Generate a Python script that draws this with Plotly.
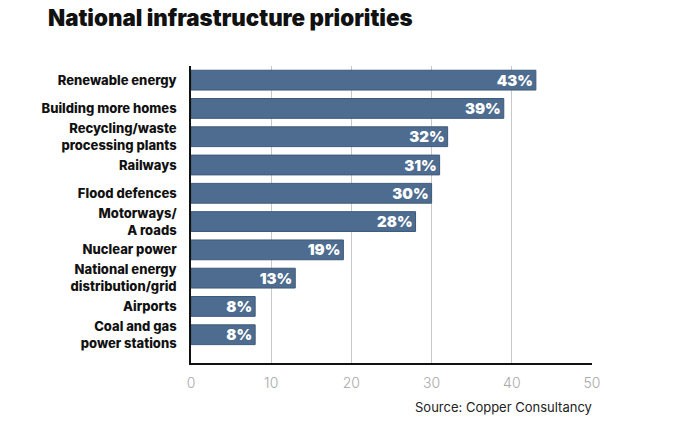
import plotly.graph_objects as go

categories = ["Renewable energy", "Building more homes", "Recycling/waste<br>processing plants",
              "Railways", "Flood defences", "Motorways/<br>A roads", "Nuclear power",
              "National energy<br>distribution/grid", "Airports", "Coal and gas<br>power stations"]
values = [43, 39, 32, 31, 30, 28, 19, 13, 8, 8]
labels = [f"{v}%" for v in values]
tick_vals = [0, 10, 20, 30, 40, 50]

fig = go.Figure(go.Bar(
    x=values, y=categories, orientation="h",
    marker=dict(color="#4d6c8f", line=dict(color="#3d5a7a", width=1)),
    text=labels, textposition="inside", insidetextanchor="end", constraintext="none",
    textfont=dict(family="Inter", size=15, color="white", weight=900),
    cliponaxis=False,
))

fig.update_layout(
    width=692, height=417,
    margin=dict(l=183, r=108, t=58, b=62),
    paper_bgcolor="white", plot_bgcolor="white",
    bargap=0.3,
    showlegend=False,
    title=dict(text="National infrastructure priorities", x=40/692, xref="container", xanchor="left",
               y=1 - 2/417, yref="container", yanchor="top",
               font=dict(family="Inter", size=22.3, color="#111", weight=900)),
    xaxis=dict(range=[0, 50], tickvals=tick_vals, showgrid=True, gridcolor="#c8c8c8", gridwidth=1,
               showline=True, linecolor="#111", linewidth=1.5, zeroline=False,
               tickfont=dict(family="Inter", size=14, color="#a8a8a8", weight=300), ticks="",
               ticklabelstandoff=6),
    yaxis=dict(type="category", categoryorder="array", categoryarray=categories,
               range=[10.0, -0.5], showgrid=False, showline=True, linecolor="#111", linewidth=1.5,
               ticks="", ticklabelstandoff=10,
               tickfont=dict(family="Inter", size=13, color="#111", weight=800)),
    annotations=[dict(text="Source: Copper Consultancy", xref="paper", yref="paper", x=1.005, y=-0.148,
                      xanchor="right", yanchor="middle", showarrow=False,
                      font=dict(family="Inter", size=13, color="#222"))],
)

fig.write_html("out.html")
